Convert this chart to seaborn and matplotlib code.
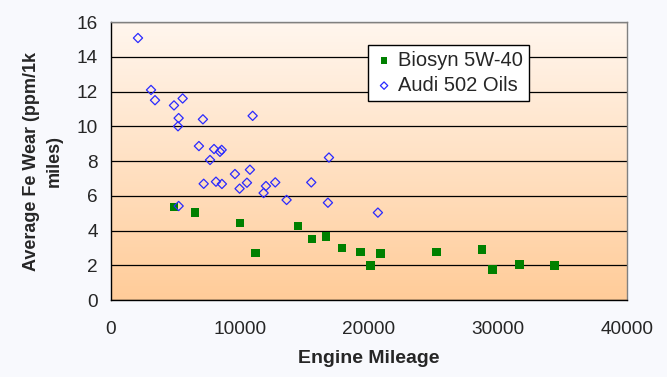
import numpy as np
import pandas as pd
import seaborn as sns
import matplotlib.pyplot as plt
from matplotlib.colors import LinearSegmentedColormap

# ============================================================
# DATA
# ============================================================
biosyn_miles = [4900, 6520, 10010, 11220, 14500, 15580, 16690, 17930, 19350,
                20120, 20900, 25230, 28740, 29570, 31660, 34370]
biosyn_fe = [5.37, 5.03, 4.45, 2.72, 4.26, 3.53, 3.65, 3.01, 2.78,
             1.98, 2.67, 2.78, 2.90, 1.75, 2.05, 1.98]

audi_miles = [2110, 3120, 3430, 4900, 5570, 5260, 5210, 7140, 10990, 6830,
              8000, 8460, 8590, 7690, 16900, 9620, 10780, 7200, 8150, 8610,
              9980, 10550, 12020, 11840, 12740, 13620, 15530, 16820, 5260, 20690]
audi_fe = [15.08, 12.09, 11.50, 11.20, 11.60, 10.47, 10.00, 10.40, 10.60, 8.86,
           8.69, 8.53, 8.64, 8.06, 8.20, 7.25, 7.50, 6.69, 6.81, 6.68,
           6.41, 6.75, 6.56, 6.16, 6.77, 5.76, 6.77, 5.60, 5.41, 5.03]

series_names = ["Biosyn 5W-40", "Audi 502 Oils"]
x_ticks = [0, 10000, 20000, 30000, 40000]
y_ticks = [0, 2, 4, 6, 8, 10, 12, 14, 16]

# ============================================================
# STYLE
# ============================================================
sns.set_style("white")
plt.rcParams["font.family"] = ["Liberation Sans", "DejaVu Sans"]
plt.rcParams["font.size"] = 13.7

fig = plt.figure(figsize=(6.67, 3.77), dpi=100, facecolor="#f8f9fd")
ax = fig.add_axes([0.166, 0.2042, 0.7744, 0.7374])

# gradient plot background
grad_cmap = LinearSegmentedColormap.from_list("peach", ["#ffcc99", "#fff6ee"])
ax.imshow(np.linspace(0, 1, 256).reshape(-1, 1), cmap=grad_cmap, origin="lower",
          extent=[0, 1, 0, 1], transform=ax.transAxes, aspect="auto", zorder=0)

# ============================================================
# PLOT
# ============================================================
sns.scatterplot(x=biosyn_miles, y=biosyn_fe, marker="s", s=36, color="#008000",
                edgecolor="none", label=series_names[0], ax=ax, zorder=3)
sns.scatterplot(x=audi_miles, y=audi_fe, marker="D", s=22, facecolors="none",
                edgecolors="#2a2aff", linewidth=0.9, label=series_names[1],
                ax=ax, zorder=3)

ax.set_xlim(0, 40000)
ax.set_ylim(0, 16)
ax.set_xticks(x_ticks)
ax.set_yticks(y_ticks)
ax.set_xticklabels([str(t) for t in x_ticks])
ax.set_yticklabels([str(t) for t in y_ticks])

ax.yaxis.grid(True, color="black", linewidth=0.9, zorder=1)
ax.xaxis.grid(False)
ax.set_axisbelow(True)

for side in ["left", "bottom"]:
    ax.spines[side].set_color("black")
    ax.spines[side].set_linewidth(1.0)
for side in ["top", "right"]:
    ax.spines[side].set_color("#808080")
    ax.spines[side].set_linewidth(1.0)

ax.tick_params(axis="both", direction="out", length=4.3, width=1.0,
               color="black", labelsize=13.7)
ax.tick_params(axis="x", pad=10.5)
ax.tick_params(axis="y", pad=5)

ax.set_xlabel("Engine Mileage", fontsize=14, fontweight="bold", va="center")
ax.xaxis.set_label_coords(0.5, -0.209)
ax.set_ylabel("Average Fe Wear (ppm/1k\nmiles)", fontsize=13,
              fontweight="bold", linespacing=1.4, va="center")
ax.yaxis.set_label_coords(-0.131, 0.5)

leg = ax.legend(loc="upper left", bbox_to_anchor=(0.498, 0.918), frameon=True,
                fancybox=False, fontsize=14.5, handletextpad=0.2,
                handlelength=1.0, borderpad=0.3, labelspacing=0.3,
                borderaxespad=0, markerscale=0.8)
leg.get_frame().set_edgecolor("black")
leg.get_frame().set_linewidth(1.0)
leg.get_frame().set_facecolor("white")
leg.get_frame().set_alpha(1)

fig.savefig("out.png", dpi=100, facecolor=fig.get_facecolor())
